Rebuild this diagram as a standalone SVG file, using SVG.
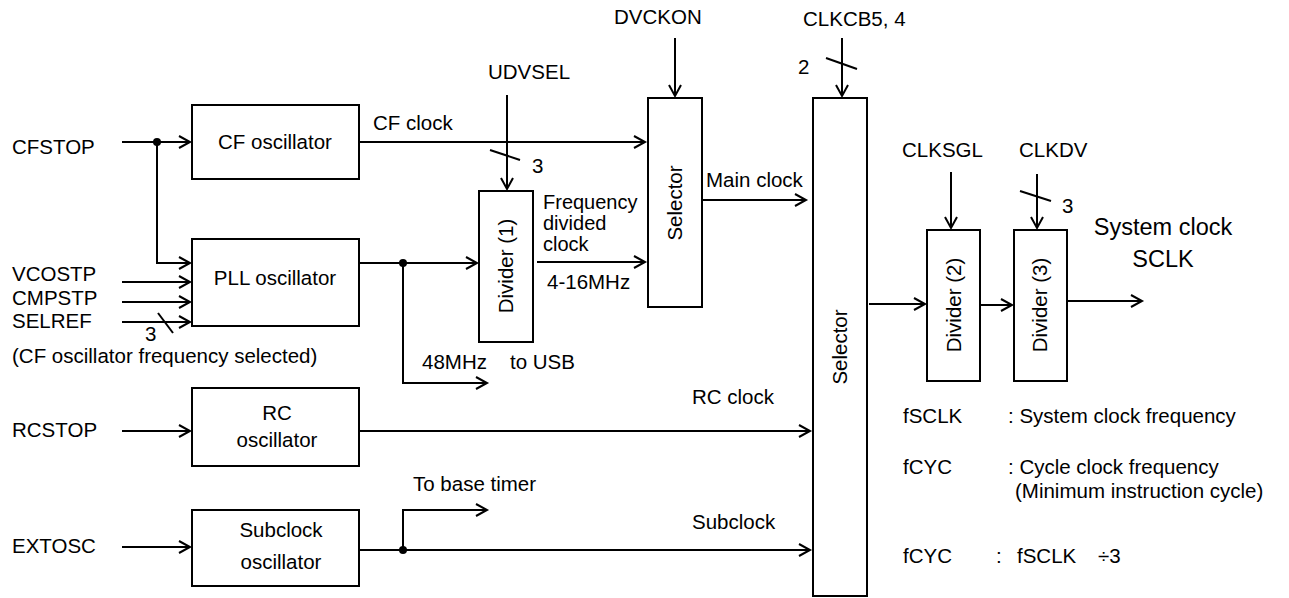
<svg xmlns="http://www.w3.org/2000/svg" width="1289" height="598" viewBox="0 0 1289 598">
<style>
text{font-family:"Liberation Sans",Arial,sans-serif;font-size:20.5px;fill:#000}
.c{text-anchor:middle}
.big{font-size:23.5px}
.sm{font-size:20px}
.box{fill:#fff;stroke:#000;stroke-width:2}
.ln{fill:none;stroke:#000;stroke-width:2}
.ar{marker-end:url(#ah)}
</style>
<defs>
<marker id="ah" markerUnits="userSpaceOnUse" markerWidth="16" markerHeight="16" viewBox="-13 -8 16 16" refX="0" refY="0" orient="auto">
<path d="M-11,-6 L0,0 L-11,6" fill="none" stroke="#000" stroke-width="2"/>
</marker>
</defs>
<rect width="1289" height="598" fill="#fff"/>

<g id="connectors">
<line class="ln ar" x1="122" y1="142" x2="190" y2="142"/>
<path class="ln ar" d="M157,142 V263 H190"/>
<circle cx="157" cy="142" r="4"/>
<line class="ln ar" x1="122" y1="282" x2="190" y2="282"/>
<line class="ln ar" x1="122" y1="302" x2="190" y2="302"/>
<line class="ln ar" x1="122" y1="322" x2="190" y2="322"/>
<line class="ln" x1="158" y1="313" x2="173" y2="333"/>
<line class="ln ar" x1="359" y1="142" x2="645" y2="142"/>
<line class="ln ar" x1="507" y1="95" x2="507" y2="189"/>
<line class="ln" x1="490" y1="150" x2="520" y2="160"/>
<line class="ln ar" x1="359" y1="263" x2="477" y2="263"/>
<circle cx="403" cy="263" r="4"/>
<path class="ln ar" d="M403,263 V383 H487"/>
<line class="ln ar" x1="537" y1="262" x2="645" y2="262"/>
<line class="ln ar" x1="675" y1="38" x2="675" y2="96"/>
<line class="ln ar" x1="702" y1="200" x2="806" y2="200"/>
<line class="ln ar" x1="842" y1="38" x2="842" y2="96"/>
<line class="ln" x1="826" y1="58" x2="857" y2="69"/>
<line class="ln ar" x1="122" y1="431" x2="190" y2="431"/>
<line class="ln ar" x1="359" y1="431" x2="810" y2="431"/>
<line class="ln ar" x1="122" y1="547" x2="190" y2="547"/>
<line class="ln ar" x1="359" y1="550" x2="810" y2="550"/>
<circle cx="403" cy="550" r="4"/>
<path class="ln ar" d="M403,550 V510 H487"/>
<line class="ln ar" x1="869" y1="304" x2="925" y2="304"/>
<line class="ln ar" x1="980" y1="305" x2="1012" y2="305"/>
<line class="ln ar" x1="1067" y1="301" x2="1142" y2="301"/>
<line class="ln ar" x1="951" y1="172" x2="951" y2="228"/>
<line class="ln ar" x1="1037" y1="174" x2="1037" y2="228"/>
<line class="ln" x1="1020" y1="191" x2="1051" y2="201"/>
</g>

<g id="cf-osc">
<rect class="box" x="192" y="105" width="167" height="74"/>
<text class="c" x="275" y="149">CF oscillator</text>
</g>
<g id="pll-osc">
<rect class="box" x="192" y="239" width="167" height="87"/>
<text class="c" x="275" y="285">PLL oscillator</text>
</g>
<g id="rc-osc">
<rect class="box" x="192" y="388" width="167" height="78"/>
<text class="c" x="277" y="420">RC</text>
<text class="c" x="277" y="447">oscillator</text>
</g>
<g id="sub-osc">
<rect class="box" x="192" y="510" width="167" height="76"/>
<text class="c" x="281" y="537">Subclock</text>
<text class="c" x="281" y="569">oscillator</text>
</g>
<g id="divider1">
<rect class="box" x="479" y="191" width="54" height="151"/>
<text class="c" transform="translate(506,266) rotate(-90)" dy="0.36em">Divider (1)</text>
</g>
<g id="selector1">
<rect class="box" x="648" y="98" width="54" height="209"/>
<text class="c" transform="translate(675,203) rotate(-90)" dy="0.36em">Selector</text>
</g>
<g id="selector2">
<rect class="box" x="813" y="98" width="54" height="498"/>
<text class="c" transform="translate(840,347) rotate(-90)" dy="0.36em">Selector</text>
</g>
<g id="divider2">
<rect class="box" x="927" y="230" width="53" height="151"/>
<text class="c" transform="translate(954,305) rotate(-90)" dy="0.36em">Divider (2)</text>
</g>
<g id="divider3">
<rect class="box" x="1014" y="230" width="53" height="151"/>
<text class="c" transform="translate(1040,305) rotate(-90)" dy="0.36em">Divider (3)</text>
</g>

<g id="labels">
<text x="12" y="154">CFSTOP</text>
<text x="12" y="281">VCOSTP</text>
<text x="12" y="305">CMPSTP</text>
<text x="12" y="328">SELREF</text>
<text x="145" y="341">3</text>
<text x="12" y="363">(CF oscillator frequency selected)</text>
<text x="12" y="437">RCSTOP</text>
<text x="12" y="553">EXTOSC</text>
<text x="373" y="130">CF clock</text>
<text x="488" y="79">UDVSEL</text>
<text x="532" y="173">3</text>
<text x="614" y="24">DVCKON</text>
<text class="sm" x="543" y="209">Frequency</text>
<text class="sm" x="543" y="230">divided</text>
<text class="sm" x="543" y="251">clock</text>
<text x="547" y="289">4-16MHz</text>
<text x="706" y="187">Main clock</text>
<text x="422" y="369">48MHz</text>
<text x="510" y="369">to USB</text>
<text x="692" y="404">RC clock</text>
<text x="413" y="491">To base timer</text>
<text x="692" y="529">Subclock</text>
<text x="803" y="26">CLKCB5, 4</text>
<text x="798" y="74">2</text>
<text x="902" y="157">CLKSGL</text>
<text x="1019" y="157">CLKDV</text>
<text x="1062" y="213">3</text>
<text class="big c" x="1163" y="235">System clock</text>
<text class="big c" x="1163" y="267">SCLK</text>
<text x="903" y="423">fSCLK</text>
<text x="1008" y="423">: System clock frequency</text>
<text x="903" y="474">fCYC</text>
<text x="1008" y="474">: Cycle clock frequency</text>
<text x="1015" y="498">(Minimum instruction cycle)</text>
<text x="903" y="563">fCYC</text>
<text x="996" y="563">:</text>
<text x="1017" y="563">fSCLK</text>
<text x="1098" y="563">÷3</text>
</g>
</svg>
